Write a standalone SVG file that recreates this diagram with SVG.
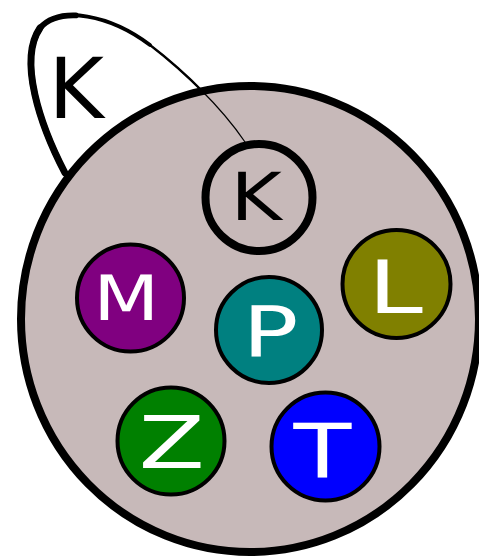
<svg xmlns="http://www.w3.org/2000/svg" width="479" height="558" viewBox="0 0 479 558">
<style>
.lbl{font-family:"DejaVu Sans","Liberation Sans",sans-serif;text-anchor:middle}
.w{fill:#ffffff}
.node{stroke:#000;stroke-width:4}
.loop{fill:none;stroke:#000;stroke-linecap:round;stroke-linejoin:round}
</style>
<rect x="0" y="0" width="479" height="558" fill="#ffffff"/>
<g id="container">
<ellipse cx="250" cy="319" rx="229" ry="233" fill="#c7b9b9" stroke="#000" stroke-width="8"/>
</g>
<g id="outer-k-label">
<text class="lbl" x="76.3" y="118.3" font-size="84.5" fill="#000">K</text>
</g>
<g id="connectors">
<path class="loop" stroke-width="1.2" d="M65,173 C40,125 18,60 40,28 C60,5 110,15 150,45 C180,68 220,105 245,142"/>
<path class="loop" stroke-width="2.3" d="M65,173 C40,125 18,60 40,28 C60,5 110,15 150,45 C166.5,57.65 186,74.55 204.4,93.2"/>
<path class="loop" stroke-width="3.8" d="M65,173 C40,125 18,60 40,28 C60,5 110,15 150,45"/>
<path class="loop" stroke-width="5.8" d="M65,173 C40,125 18,60 40,28 C48,18.8 60.8,14.88 75.84,15.4"/>
<path class="loop" stroke-width="7" d="M65,173 C40,125 18,60 40,28"/>
</g>
<g id="node-K">
<circle cx="259" cy="197.5" r="53.5" fill="none" stroke="#000" stroke-width="8"/>
<text class="lbl" transform="translate(256.2,220) scale(1.18,1)" font-size="66.3" fill="#000">K</text>
</g>
<g id="node-M">
<circle class="node" cx="130.5" cy="298" r="53.5" fill="#800080"/>
<text class="lbl w" transform="translate(126.2,320) scale(1.22,1)" font-size="62.7">M</text>
</g>
<g id="node-P">
<circle class="node" cx="269" cy="330" r="53" fill="#008080"/>
<text class="lbl w" transform="translate(270.5,356) scale(1.345,1)" font-size="69">P</text>
</g>
<g id="node-L">
<circle class="node" cx="396.5" cy="284" r="54" fill="#808000"/>
<text class="lbl w" transform="translate(395.5,312.5) scale(1.34,1)" font-size="73.5">L</text>
</g>
<g id="node-Z">
<circle class="node" cx="171" cy="441" r="53.5" fill="#008000"/>
<text class="lbl w" transform="translate(171.7,468.3) scale(1.32,1)" font-size="73">Z</text>
</g>
<g id="node-T">
<circle class="node" cx="325.5" cy="446.5" r="54" fill="#0000ff"/>
<text class="lbl w" transform="translate(322.5,477.3) scale(1.28,1)" font-size="74">T</text>
</g>
</svg>
